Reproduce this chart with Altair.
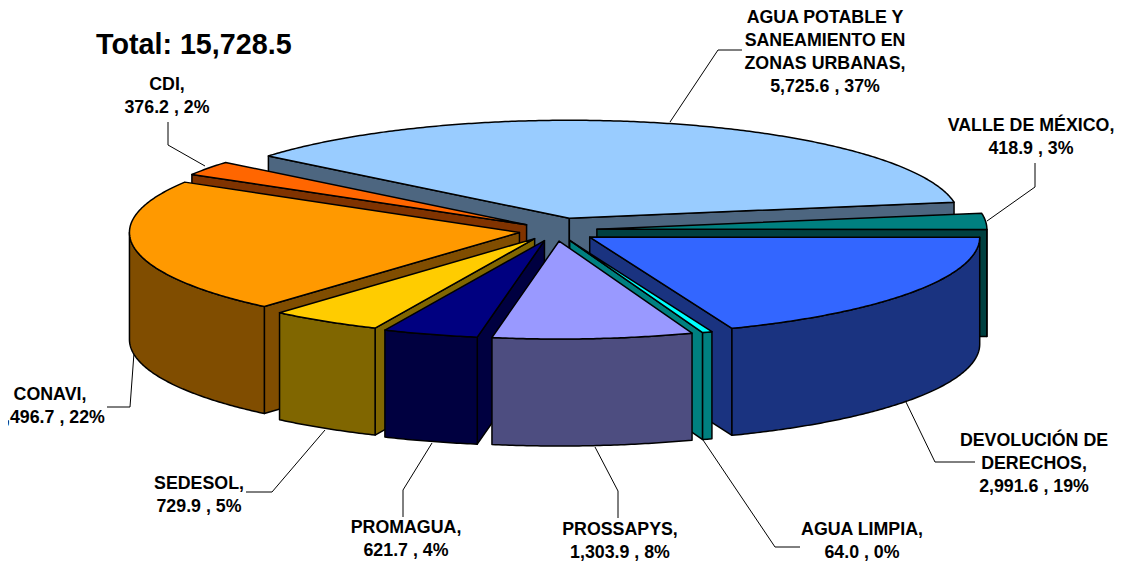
import math
import altair as alt

names = ["AGUA POTABLE Y\nSANEAMIENTO EN\nZONAS URBANAS,", "VALLE DE MÉXICO,", "DEVOLUCIÓN DE\nDERECHOS,",
         "AGUA LIMPIA,", "PROSSAPYS,", "PROMAGUA,", "SEDESOL,", "CONAVI,", "CDI,"]
values = [5725.6, 418.9, 2991.6, 64.0, 1303.9, 621.7, 729.9, 3496.7, 376.2]
pcts = [37, 3, 19, 0, 8, 4, 5, 22, 2]
tops = ["#99CCFF", "#008080", "#3366FF", "#00FFFF", "#9999FF", "#000080", "#FFCC00", "#FF9900", "#FF6600"]
sides = ["#4D6680", "#004040", "#1A3380", "#008080", "#4D4D80", "#000040", "#806600", "#804D00", "#803300"]
paint_order = [0, 8, 1, 7, 2, 6, 3, 5, 4]

label_x = [825, 1031, 1034, 862, 620, 406, 199, 50, 167]
label_y = [9, 117, 432, 521, 521, 519, 475, 386, 76]
leaders = [
    [(670, 122), (718, 50), (742, 50)],
    [(987, 221), (1035, 187), (1035, 163)],
    [(905, 400), (935, 462), (975, 462)],
    [(703, 440), (775, 547), (800, 547)],
    [(595, 447), (618, 491), (618, 518)],
    [(432, 443), (403, 490), (403, 517)],
    [(325, 430), (272, 492), (246, 492)],
    [(134, 353), (130, 407), (107, 407)],
    [(205, 166), (168, 145), (168, 122)],
]
# small per-slice corrections for the reference's perspective
nudge_x = [0, 1, 0, -3, -4, -5, -6, -5, -4]
nudge_y = [-4, -1, 1, 1, 1, 1, 0, 0, -1]

CX, CY, RX, RY, DEPTH, EXPLODE, START = 560, 231, 390, 98, 107, 36, -50.5
total = sum(values)


def rim(ax, ay, deg, dz=0):
    r = math.radians(deg)
    return [ax + RX * math.sin(r), ay - RY * math.cos(r) + dz]


def poly(points, fill):
    pts = points + [points[0]]
    return {"type": "Feature", "properties": {"fill": fill},
            "geometry": {"type": "Polygon", "coordinates": [pts]}}


spans, a = [], START
for v in values:
    spans.append((a, a + 360 * v / total))
    a += 360 * v / total

features = []
for i in paint_order:
    t0, t1 = spans[i]
    mid = math.radians((t0 + t1) / 2)
    ax = CX + EXPLODE * math.sin(mid) + nudge_x[i]
    ay = CY - EXPLODE * RY / RX * math.cos(mid) + nudge_y[i]
    if math.sin(math.radians(t0)) < 0:
        p = rim(ax, ay, t0)
        features.append(poly([[ax, ay], p, [p[0], p[1] + DEPTH], [ax, ay + DEPTH]], sides[i]))
    if math.sin(math.radians(t1)) > 0:
        p = rim(ax, ay, t1)
        features.append(poly([[ax, ay], p, [p[0], p[1] + DEPTH], [ax, ay + DEPTH]], sides[i]))
    lo, hi = max(t0, 90), min(t1, 270)
    if hi > lo:
        n = max(2, int(hi - lo) * 2)
        ts = [lo + (hi - lo) * k / n for k in range(n + 1)]
        features.append(poly([rim(ax, ay, t) for t in ts] + [rim(ax, ay, t, DEPTH) for t in reversed(ts)], sides[i]))
    n = max(2, int(t1 - t0) * 2)
    features.append(poly([[ax, ay]] + [rim(ax, ay, t0 + (t1 - t0) * k / n) for k in range(n + 1)], tops[i]))

lines = [{"type": "Feature", "properties": {},
          "geometry": {"type": "LineString", "coordinates": [list(p) for p in l]}} for l in leaders]
labels = [{"lon": x, "lat": y, "text": f"{n}\n{v:,.1f} , {p}%"}
          for x, y, n, v, p in zip(label_x, label_y, names, values, pcts)]

proj = alt.Projection(type="identity", scale=1, translate=[-8, -8])
FONT = "Liberation Sans"

leader_layer = alt.Chart(alt.Data(values=lines)).mark_geoshape(filled=False, stroke="#000000", strokeWidth=1)
pie = alt.Chart(alt.Data(values=features)).mark_geoshape(stroke="#000000", strokeWidth=1.5, strokeJoin="round").encode(
    fill=alt.Fill("properties.fill:N", scale=None))
text = alt.Chart(alt.Data(values=labels)).mark_text(
    font=FONT, fontWeight="bold", fontSize=17.8, lineHeight=23, lineBreak="\n", align="center", baseline="top",
    color="#000000").encode(longitude="lon:Q", latitude="lat:Q", text="text:N")
title = alt.Chart(alt.Data(values=[{"lon": 96, "lat": 54, "text": "Total: 15,728.5"}])).mark_text(
    font=FONT, fontWeight="bold", fontSize=28.7, align="left", baseline="alphabetic",
    color="#000000").encode(longitude="lon:Q", latitude="lat:Q", text="text:N")

chart = alt.layer(leader_layer, pie, text, title, projection=proj).properties(
    width=1106, height=553, padding=0, autosize=alt.AutoSizeParams(type="none"),
    background="#FFFFFF").configure_view(stroke=None)
chart.save("out.html", embed_options={"renderer": "svg", "actions": False})
